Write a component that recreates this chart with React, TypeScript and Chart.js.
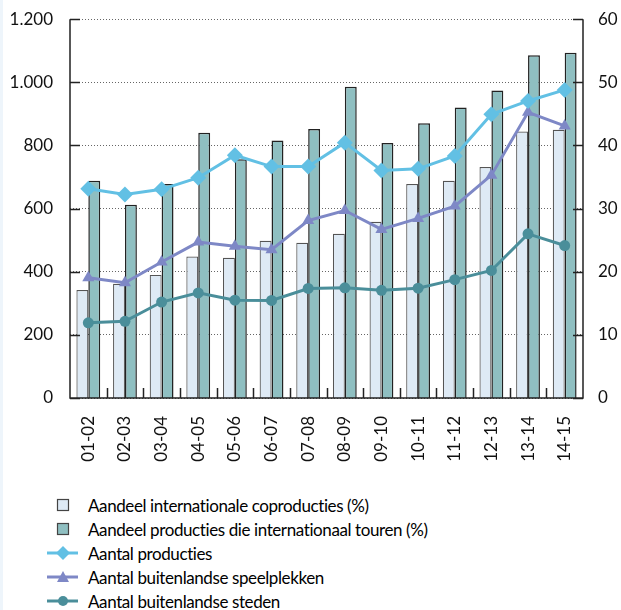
import React, { useEffect, useRef } from "react";
import { Chart, registerables } from "chart.js";

Chart.register(...registerables);

const categories = ["01-02", "02-03", "03-04", "04-05", "05-06", "06-07", "07-08", "08-09", "09-10", "10-11", "11-12", "12-13", "13-14", "14-15"];
const coproducties = [17.1, 18.1, 19.5, 22.4, 22.2, 24.9, 24.6, 26.0, 27.9, 33.9, 34.4, 36.6, 42.2, 42.5];
const touren = [34.4, 30.6, 33.9, 42.0, 37.8, 40.8, 42.6, 49.3, 40.4, 43.5, 46.0, 48.7, 54.3, 54.7];
const producties = [663, 645, 661, 698, 769, 733, 733, 809, 721, 726, 767, 899, 941, 976];
const speelplekken = [381, 365, 431, 494, 481, 470, 562, 594, 534, 569, 608, 706, 905, 862];
const steden = [238, 243, 304, 333, 310, 309, 347, 349, 341, 348, 375, 404, 520, 483];
const leftTicks = [0, 200, 400, 600, 800, 1000, 1200];
const rightTicks = [0, 10, 20, 30, 40, 50, 60];

const legendLabels = [
  "Aandeel internationale coproducties (%)",
  "Aandeel producties die internationaal touren (%)",
  "Aantal producties",
  "Aantal buitenlandse speelplekken",
  "Aantal buitenlandse steden",
];

const C_LIGHT = "#deeaf5";
const C_DARK = "#8fbfc1";
const C_PROD = "#62c0e4";
const C_SPEEL = "#7e88c6";
const C_STED = "#4a8e9a";
const FONT = "Lato, 'Open Sans', sans-serif";

const innerTicks = {
  id: "innerTicks",
  afterDatasetsDraw(chart: any) {
    const ctx = chart.ctx;
    const area = chart.chartArea;
    const y = chart.scales.y;
    const y1 = chart.scales.y1;
    const x = chart.scales.x;
    ctx.save();
    ctx.strokeStyle = "#222";
    ctx.lineWidth = 1.5;
    ctx.beginPath();
    ctx.moveTo(area.left, area.top);
    ctx.lineTo(area.left, area.bottom);
    ctx.lineTo(area.right, area.bottom);
    ctx.lineTo(area.right, area.top);
    y.ticks.forEach((_t: any, i: number) => {
      const py = Math.round(y.getPixelForTick(i)) + 0.5;
      ctx.moveTo(area.left, py);
      ctx.lineTo(area.left + 10, py);
    });
    y1.ticks.forEach((_t: any, i: number) => {
      const py = Math.round(y1.getPixelForTick(i)) + 0.5;
      ctx.moveTo(area.right - 10, py);
      ctx.lineTo(area.right, py);
    });
    const n = categories.length;
    const w = (area.right - area.left) / n;
    for (let i = 1; i < n; i++) {
      const px = Math.round(x.getPixelForValue(i) - w / 2) + 0.5;
      ctx.moveTo(px, area.bottom);
      ctx.lineTo(px, area.bottom - 10);
    }
    ctx.stroke();
    ctx.restore();
  },
};

function LegendIcon({ kind }: { kind: number }) {
  if (kind === 0 || kind === 1) {
    return (
      <svg width="40" height="16" style={{ display: "block" }}>
        <rect x="10.5" y="2.5" width="11" height="11" fill={kind === 0 ? C_LIGHT : C_DARK} stroke="#444" strokeWidth="1.2" />
      </svg>
    );
  }
  const color = kind === 2 ? C_PROD : kind === 3 ? C_SPEEL : C_STED;
  let marker: any;
  if (kind === 2) marker = <polygon points="16,1 23,8 16,15 9,8" fill={color} />;
  else if (kind === 3) marker = <polygon points="16,2 22,13 10,13" fill={color} />;
  else marker = <circle cx="16" cy="8" r="5" fill={color} />;
  return (
    <svg width="40" height="16" style={{ display: "block" }}>
      <line x1="0" y1="8" x2="31" y2="8" stroke={color} strokeWidth="3" />
      {marker}
    </svg>
  );
}

export default function App() {
  const ref = useRef<HTMLCanvasElement>(null);
  useEffect(() => {
    const chart = new Chart(ref.current as HTMLCanvasElement, {
      data: {
        labels: categories,
        datasets: [
          {
            type: "line",
            label: legendLabels[2],
            data: producties,
            yAxisID: "y",
            borderColor: C_PROD,
            backgroundColor: C_PROD,
            borderWidth: 3,
            pointStyle: "rectRot",
            pointRadius: 8,
            pointBorderWidth: 0,
            order: 1,
          },
          {
            type: "line",
            label: legendLabels[3],
            data: speelplekken,
            yAxisID: "y",
            borderColor: C_SPEEL,
            backgroundColor: C_SPEEL,
            borderWidth: 3,
            pointStyle: "triangle",
            pointRadius: 7,
            pointBorderWidth: 0,
            order: 2,
          },
          {
            type: "line",
            label: legendLabels[4],
            data: steden,
            yAxisID: "y",
            borderColor: C_STED,
            backgroundColor: C_STED,
            borderWidth: 3,
            pointStyle: "circle",
            pointRadius: 5.5,
            pointBorderWidth: 0,
            order: 3,
          },
          {
            type: "bar",
            label: legendLabels[0],
            data: coproducties,
            yAxisID: "y1",
            backgroundColor: C_LIGHT,
            borderColor: "#555",
            borderWidth: 1.2,
            categoryPercentage: 0.65,
            barPercentage: 1,
            order: 10,
          },
          {
            type: "bar",
            label: legendLabels[1],
            data: touren,
            yAxisID: "y1",
            backgroundColor: C_DARK,
            borderColor: "#222",
            borderWidth: 1.5,
            categoryPercentage: 0.65,
            barPercentage: 1,
            order: 10,
          },
        ],
      } as any,
      options: {
        animation: false,
        responsive: false,
        maintainAspectRatio: false,
        layout: { padding: { top: 13, left: 0, right: 0, bottom: 0 } },
        plugins: { legend: { display: false }, tooltip: { enabled: false } },
        scales: {
          x: {
            grid: { display: false, drawTicks: false },
            border: { display: false },
            ticks: {
              color: "#111",
              font: { family: FONT, size: 17 },
              minRotation: 90,
              maxRotation: 90,
              padding: 18,
              autoSkip: false,
            },
            afterFit: (s: any) => {
              s.height = 82;
            },
          },
          y: {
            position: "left",
            min: 0,
            max: 1200,
            afterBuildTicks: (s: any) => {
              s.ticks = leftTicks.map((v) => ({ value: v }));
            },
            grid: {
              drawTicks: false,
              color: "#666",
              lineWidth: 1,
            },
            border: { display: false, dash: [1, 2] },
            ticks: {
              color: "#111",
              font: { family: FONT, size: 17 },
              padding: 17,
              callback: (v: any) => Number(v).toLocaleString("de-DE"),
            },
            afterFit: (s: any) => {
              s.width = 70;
            },
          },
          y1: {
            position: "right",
            min: 0,
            max: 60,
            afterBuildTicks: (s: any) => {
              s.ticks = rightTicks.map((v) => ({ value: v }));
            },
            grid: { display: false, drawTicks: false },
            border: { display: false },
            ticks: {
              color: "#111",
              font: { family: FONT, size: 17 },
              padding: 15,
            },
            afterFit: (s: any) => {
              s.width = 38;
            },
          },
        },
      } as any,
      plugins: [innerTicks],
    });
    return () => chart.destroy();
  }, []);

  return (
    <div style={{ position: "absolute", left: 0, top: 0, width: 621, height: 610, background: "#fff", overflow: "hidden" }}>
      <div style={{ position: "absolute", left: 0, top: 0, width: 3, height: 610, background: "#eef5fb" }} />
      <canvas ref={ref} width={621} height={488} style={{ position: "absolute", left: 0, top: -8, width: 621, height: 488 }} />
      <div style={{ position: "absolute", left: 47, top: 493, fontFamily: FONT, fontSize: 17, color: "#000", letterSpacing: "-0.4px" }}>
        {legendLabels.map((lab, i) => (
          <div key={i} style={{ display: "flex", alignItems: "center", height: 24 }}>
            <div style={{ width: 41 }}>
              <LegendIcon kind={i} />
            </div>
            <span>{lab}</span>
          </div>
        ))}
      </div>
    </div>
  );
}
